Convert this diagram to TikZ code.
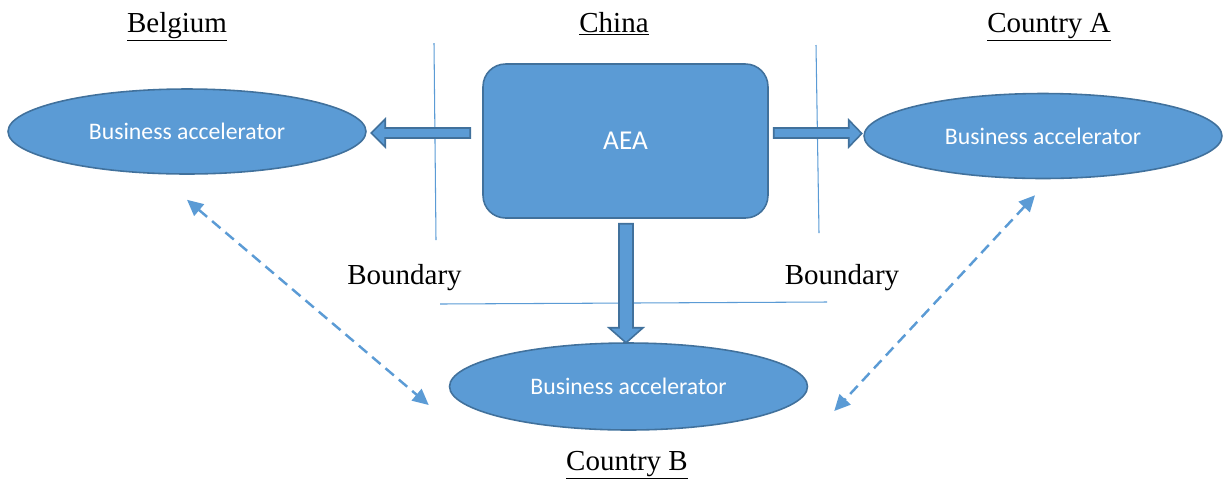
\documentclass[tikz,border=0pt]{standalone}
\usepackage{fontspec}
\setmainfont{Liberation Serif}
\newfontfamily\calibri{Carlito}
\usepackage{tikz}
\usetikzlibrary{positioning,shapes.geometric,arrows.meta,calc}
\definecolor{officeblue}{HTML}{5B9BD5}
\definecolor{officeedge}{HTML}{41719C}

\begin{document}
\begin{tikzpicture}[
    x=0.02cm, y=-0.02cm,
    accel/.style={ellipse, draw=officeedge, fill=officeblue, line width=0.9pt,
        minimum width=7.16cm, minimum height=1.7cm, inner sep=0pt,
        text=white, font=\calibri\fontsize{13.5}{16}\selectfont},
    hub/.style={rectangle, rounded corners=0.45cm, draw=officeedge, fill=officeblue,
        line width=0.9pt, minimum width=5.7cm, minimum height=3.08cm,
        text=white, font=\calibri\fontsize{15.5}{18}\selectfont},
    country/.style={anchor=base, font=\fontsize{16.5}{19}\selectfont},
    border/.style={draw=officeblue, line width=0.6pt},
    blockarrow/.style={draw=officeedge, fill=officeblue, line width=0.9pt, line join=miter},
    dasharrow/.style={draw=officeblue, line width=1.4pt, dash pattern=on 0.22cm off 0.13cm,
        {Triangle[length=0.32cm, width=0.3cm]}-{Triangle[length=0.32cm, width=0.3cm]}}
]
    \useasboundingbox (0,0) rectangle (1227,478);

    % Countries and their accelerators
    \node[accel] (bel) at (187,131.5) {Business accelerator};
    \node[accel] (ca) at (1043,136) {Business accelerator};
    \node[accel, minimum height=1.74cm] (cb) at (628.5,386.5) {Business accelerator};
    \node[hub] (aea) at (625.5,141) {AEA};

    \node[country] (tbel) at (177,32) {\underline{Belgium}};
    \node[country] (tchn) at (614,32) {\underline{China}};
    \node[country] (tca) at (1049,32) {\underline{Country A}};
    \node[country] (tcb) at (627,470) {\underline{Country B}};

    % Boundaries of China
    \coordinate (bl1) at (434,43);
    \coordinate (bl2) at (436,240);
    \coordinate (br1) at (816,45);
    \coordinate (br2) at (819,233);
    \coordinate (bh1) at (440,304);
    \coordinate (bh2) at (827,302);
    \draw[border] (bl1) -- (bl2);
    \draw[border] (br1) -- (br2);
    \draw[border] (bh1) -- (bh2);
    \node[country] (bdl) at (404.5,284) {Boundary};
    \node[country] (bdr) at (842,284) {Boundary};

    % Block arrows out of the AEA
    \draw[blockarrow] ($(aea.west)+(-12,-13)$) -- ++(-85,0) -- ++(0,-9) -- ++(-14,14)
        -- ++(14,14) -- ++(0,-9) -- ++(85,0) -- cycle;
    \draw[blockarrow] ($(aea.east)+(5,-13)$) -- ++(75,0) -- ++(0,-8) -- ++(13,13.5)
        -- ++(-13,13.5) -- ++(0,-9) -- ++(-75,0) -- cycle;
    \draw[blockarrow] ($(aea.south)+(-6.5,5)$) -- ++(0,104) -- ++(-10,0) -- ++(17,15)
        -- ++(17,-15) -- ++(-10,0) -- ++(0,-104) -- cycle;

    % Links between the accelerators
    \draw[dasharrow] ($(bel.south)+(0,25)$) -- ($(cb.west)+(-20,18.5)$);
    \draw[dasharrow] ($(ca.south)+(-8,16)$) -- ($(cb.east)+(26,24.5)$);
\end{tikzpicture}
\end{document}
